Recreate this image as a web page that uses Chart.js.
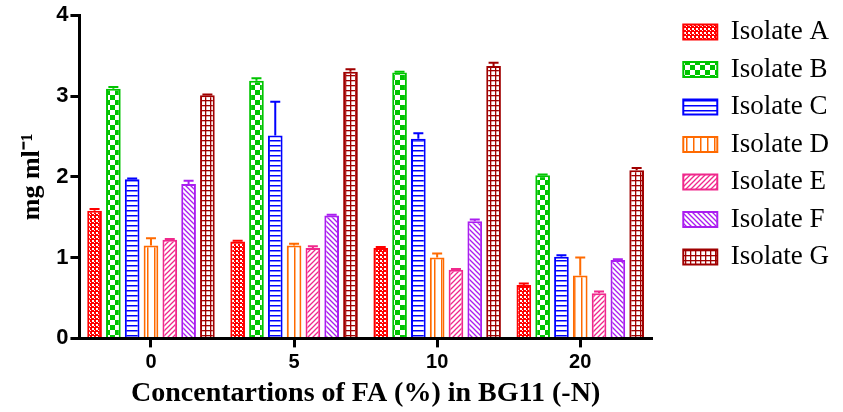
<!DOCTYPE html>
<html>
<head>
<meta charset="utf-8">
<script src="https://cdn.jsdelivr.net/npm/chart.js@4.4.0/dist/chart.umd.min.js"></script>
<style>
  html, body { margin: 0; padding: 0; background: #fff; }
  #wrap { width: 843px; height: 412px; }
</style>
</head>
<body>
<div id="wrap"><canvas id="chart" width="843" height="412"></canvas></div>
<script>
// data
const categories = ['0', '5', '10', '20'];
const seriesNames = ['Isolate A', 'Isolate B', 'Isolate C', 'Isolate D', 'Isolate E', 'Isolate F', 'Isolate G'];
const isolateA = [1.58, 1.20, 1.12, 0.66];
const isolateB = [3.09, 3.19, 3.29, 2.02];
const isolateC = [1.97, 2.51, 2.47, 1.01];
const isolateD = [1.15, 1.15, 1.00, 0.78];
const isolateE = [1.22, 1.12, 0.85, 0.56];
const isolateF = [1.91, 1.52, 1.45, 0.97];
const isolateG = [3.01, 3.30, 3.37, 2.08];
// upper error bars
const errA = [0.02, 0.01, 0.01, 0.02];
const errB = [0.02, 0.03, 0.01, 0.01];
const errC = [0.01, 0.42, 0.07, 0.02];
const errD = [0.09, 0.02, 0.05, 0.22];
const errE = [0.01, 0.02, 0.01, 0.02];
const errF = [0.04, 0.01, 0.02, 0.01];
const errG = [0.01, 0.03, 0.04, 0.03];
const yTicks = [0, 1, 2, 3, 4];

const colors = ['#ff0000', '#00c400', '#0000ff', '#ff6a00', '#f0288c', '#aa1ef0', '#a00000'];

function tile(w, h, draw) {
  const c = document.createElement('canvas');
  c.width = w; c.height = h;
  const g = c.getContext('2d');
  g.fillStyle = '#fff';
  g.fillRect(0, 0, w, h);
  draw(g);
  return document.getElementById('chart').getContext('2d').createPattern(c, 'repeat');
}

// fill patterns, one per isolate
const patterns = [
  tile(4, 4, g => { g.fillStyle = colors[0]; g.fillRect(0, 0, 4, 4); g.fillStyle = '#fff'; g.fillRect(0, 0, 2, 2); g.fillRect(2, 2, 1, 1); }),
  tile(10, 10, g => { g.fillStyle = colors[1]; g.fillRect(5, 0, 5, 5); g.fillRect(0, 5, 5, 5); }),
  tile(5, 5, g => { g.fillStyle = colors[2]; g.fillRect(0, 0, 5, 1.5); }),
  tile(7, 5, g => { g.fillStyle = colors[3]; g.fillRect(0, 0, 1.5, 5); }),
  tile(5, 5, g => { g.strokeStyle = colors[4]; g.lineWidth = 1.3; g.beginPath(); g.moveTo(-1, 6); g.lineTo(6, -1); g.moveTo(-1, 1); g.lineTo(1, -1); g.moveTo(4, 6); g.lineTo(6, 4); g.stroke(); }),
  tile(5, 5, g => { g.strokeStyle = colors[5]; g.lineWidth = 1.3; g.beginPath(); g.moveTo(-1, -1); g.lineTo(6, 6); g.moveTo(4, -1); g.lineTo(6, 1); g.moveTo(-1, 4); g.lineTo(1, 6); g.stroke(); }),
  tile(5, 5, g => { g.fillStyle = colors[6]; g.fillRect(0, 0, 5, 1.3); g.fillRect(0, 0, 1.3, 5); })
];

const values = [isolateA, isolateB, isolateC, isolateD, isolateE, isolateF, isolateG];
const errors = [errA, errB, errC, errD, errE, errF, errG];

const errorBars = {
  id: 'errorBars',
  afterDatasetsDraw(chart) {
    const ctx = chart.ctx;
    const y = chart.scales.y;
    chart.data.datasets.forEach((ds, i) => {
      const meta = chart.getDatasetMeta(i);
      meta.data.forEach((bar, j) => {
        const top = y.getPixelForValue(ds.data[j] + ds.errors[j]);
        ctx.save();
        ctx.strokeStyle = ds.borderColor;
        ctx.lineWidth = 2;
        ctx.beginPath();
        ctx.moveTo(bar.x, bar.y);
        ctx.lineTo(bar.x, top);
        ctx.moveTo(bar.x - 5, top);
        ctx.lineTo(bar.x + 5, top);
        ctx.stroke();
        ctx.restore();
      });
    });
  }
};

new Chart(document.getElementById('chart'), {
  type: 'bar',
  data: {
    labels: categories,
    datasets: seriesNames.map((name, i) => ({
      label: name,
      data: values[i],
      errors: errors[i],
      backgroundColor: patterns[i],
      borderColor: colors[i],
      borderWidth: 2,
      barPercentage: 0.78,
      categoryPercentage: 0.92
    }))
  },
  options: {
    responsive: false,
    animation: false,
    layout: { padding: { top: 8, right: 4, bottom: 1, left: 17 } },
    plugins: {
      tooltip: { enabled: false },
      legend: {
        position: 'right',
        align: 'start',
        maxWidth: 220,
        labels: {
          boxWidth: 34,
          boxHeight: 15,
          padding: 10.5,
          color: '#000',
          font: { family: 'Liberation Serif', size: 27 }
        }
      }
    },
    scales: {
      x: {
        grid: { display: true, drawOnChartArea: false, offset: false, color: '#000', lineWidth: 3, tickLength: 9 },
        border: { display: true, color: '#000', width: 3 },
        ticks: { color: '#000', padding: 3, font: { family: 'Liberation Sans', size: 20, weight: 'bold' } },
        title: {
          display: true,
          text: 'Concentartions of FA (%) in BG11 (-N)',
          color: '#000',
          padding: { top: 0, bottom: 0 },
          font: { family: 'Liberation Serif', size: 28, weight: 'bold' }
        }
      },
      y: {
        min: 0,
        max: 4,
        afterBuildTicks: axis => { axis.ticks = yTicks.map(v => ({ value: v })); },
        grid: { display: true, drawOnChartArea: false, color: '#000', lineWidth: 3, tickLength: 9 },
        border: { display: true, color: '#000', width: 3 },
        ticks: { color: '#000', padding: 2, font: { family: 'Liberation Sans', size: 22, weight: 'bold' } },
        title: {
          display: true,
          text: 'mg ml\u207B\u00B9',
          color: '#000',
          padding: { top: 0, bottom: 6 },
          font: { family: 'Liberation Serif', size: 26, weight: 'bold' }
        }
      },
      // empty spacer between plot and legend
      gap: {
        type: 'linear',
        position: 'right',
        display: true,
        grid: { display: false },
        border: { display: false },
        ticks: { display: false },
        afterFit: scale => { scale.width = 21; }
      }
    }
  },
  plugins: [errorBars]
});
</script>
</body>
</html>
